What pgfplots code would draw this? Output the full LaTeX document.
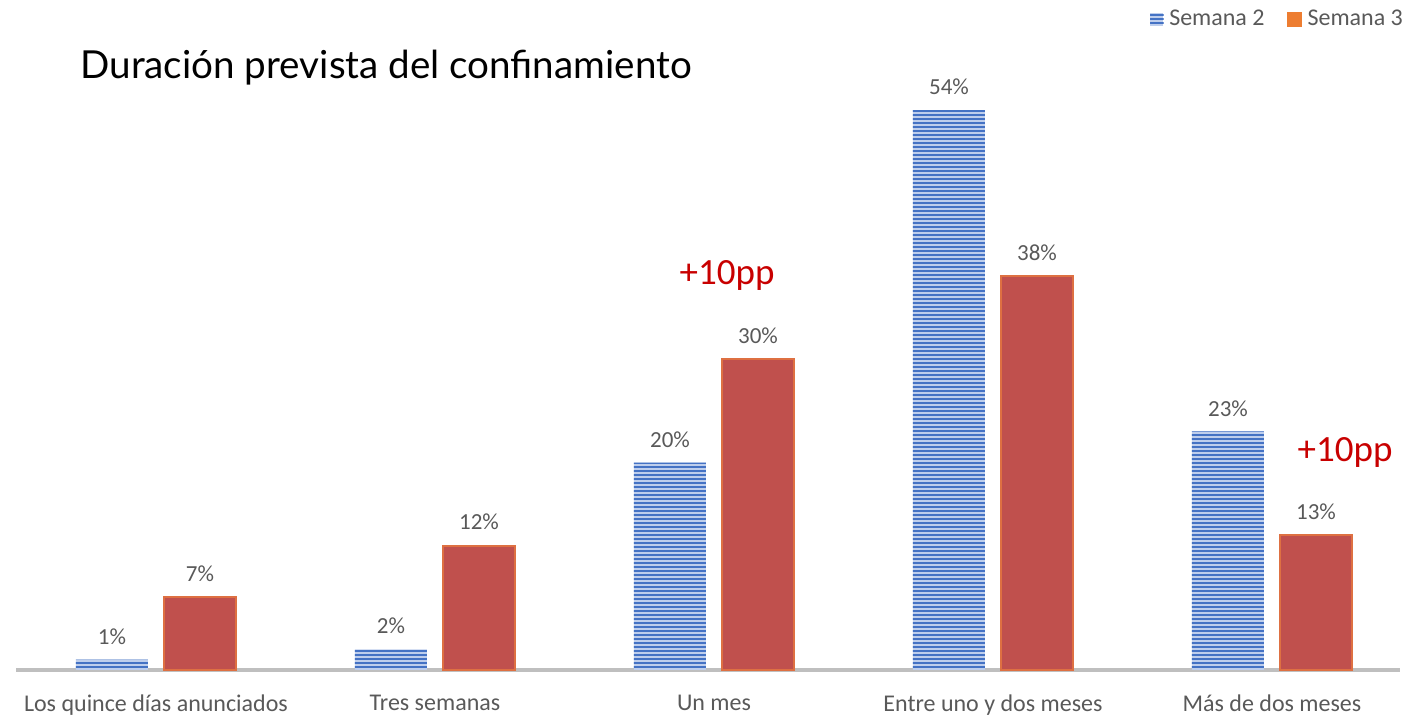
\documentclass[border=0pt]{standalone}
\usepackage{pgfplots}
\pgfplotsset{compat=1.18}
\usetikzlibrary{patterns.meta}
\usepackage{fontspec}
\setmainfont{Carlito}
\newfontfamily\titlefont{Lato}
\definecolor{sblue}{RGB}{68,114,196}
\definecolor{sbluelight}{RGB}{190,206,236}
\definecolor{sred}{RGB}{192,80,77}
\definecolor{sorange}{RGB}{222,112,66}
\definecolor{legorange}{RGB}{237,125,49}
\definecolor{lblgray}{RGB}{89,89,89}
\definecolor{axgray}{RGB}{191,191,191}
\definecolor{ppred}{RGB}{200,0,0}

\pgfplotstableread{
x s2 s3
0 1 7
1 2 12
2 20 30
3 54 38
4 23 13
}\datatable

\begin{document}
\begin{tikzpicture}
\useasboundingbox (0,0) rectangle (701pt,357.5pt);
\begin{axis}[
  at={(8.25pt,22.5pt)}, anchor=south west,
  scale only axis, width=691.9pt, height=311.1pt,
  xmin=-0.5, xmax=4.46, ymin=0, ymax=60,
  ybar=8pt, bar width=36pt,
  axis x line=bottom, axis y line=none,
  x axis line style={draw=axgray, line width=1.6pt, -},
  xtick={0,1,2,3,4},
  xticklabels={Los quince días anunciados, Tres semanas, Un mes, Entre uno y dos meses, Más de dos meses},
  major tick length=0pt,
  xticklabel style={font=\fontsize{12}{14}\selectfont, text=lblgray, yshift=-9pt},
  ytick=\empty,
  /pgf/number format/assume math mode=true,
  nodes near coords={\pgfmathprintnumber{\pgfplotspointmeta}\%},
  every node near coord/.append style={font=\fontsize{11.5}{13}\selectfont, text=lblgray, yshift=4pt},
  clip=false,
  legend style={at={(axis description cs:1,1.046)}, anchor=east, xshift=4.5pt, draw=none, fill=none,
    legend columns=2, inner sep=0pt, font=\fontsize{12}{14}\selectfont, text=lblgray,
    nodes={inner sep=3pt},
    /tikz/every even column/.append style={column sep=8pt}},
  legend cell align=left,
]
\addplot[fill=sbluelight, draw=none,
  postaction={pattern={Lines[angle=0,distance=2pt,line width=1.05pt]}, pattern color=sblue},
  legend image code/.code={
    \fill[sbluelight] (0pt,-3.25pt) rectangle (6.5pt,3.25pt);
    \fill[pattern={Lines[angle=0,distance=2pt,line width=1.05pt]}, pattern color=sblue] (0pt,-3.25pt) rectangle (6.5pt,3.25pt);}
] table[x=x, y=s2] {\datatable};
\addlegendentry{Semana 2}
\addplot[fill=sred, draw=sorange, line width=1pt,
  legend image code/.code={\fill[legorange] (0pt,-3.25pt) rectangle (6.5pt,3.25pt);}
] table[x=x, y=s3] {\datatable};
\addlegendentry{Semana 3}
\node[text=ppred, font=\fontsize{18.5}{22}\selectfont] at (axis cs:2.047,38.0) {+10pp};
\node[text=ppred, font=\fontsize{18.5}{22}\selectfont] at (axis cs:4.262,21.0) {+10pp};
\end{axis}
\node[anchor=base west, inner sep=0pt, font=\titlefont\fontsize{19.3}{23}\selectfont] at (40pt,318pt) {Duración prevista del confinamiento};
\end{tikzpicture}
\end{document}
